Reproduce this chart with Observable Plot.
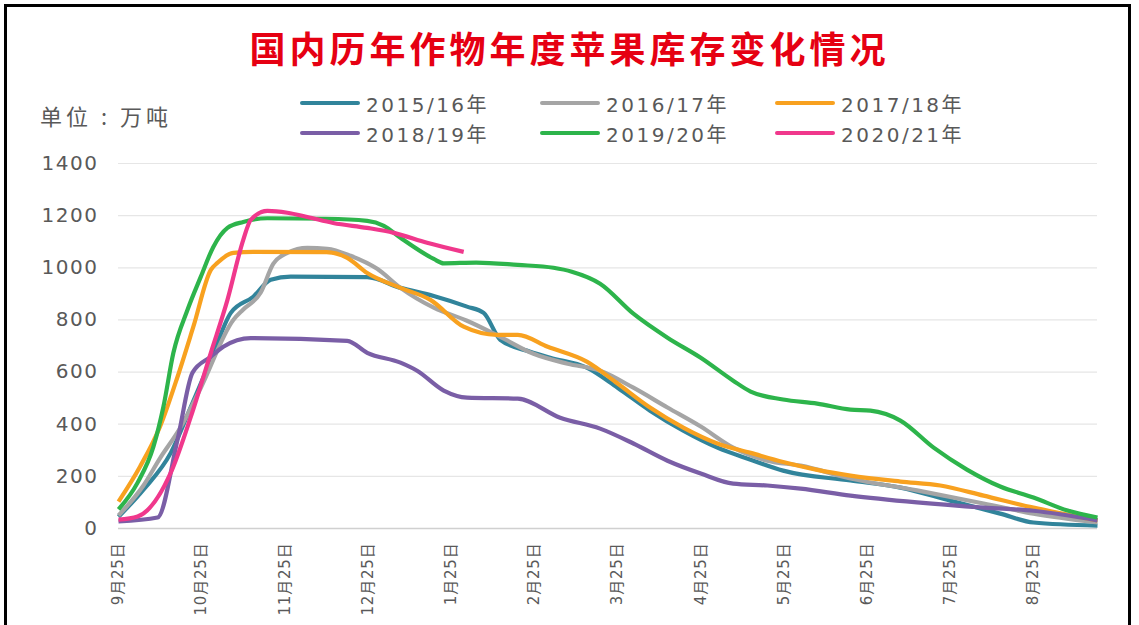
<!DOCTYPE html>
<html>
<head>
<meta charset="utf-8">
<script src="https://cdn.jsdelivr.net/npm/d3@7"></script>
<script src="https://cdn.jsdelivr.net/npm/@observablehq/plot@0.6"></script>
<style>
  html, body { margin: 0; padding: 0; background: #fff; }
  #wrap { position: relative; width: 1139px; height: 625px; overflow: hidden; background: #fff;
          font-family: "DejaVu Sans", "Noto Sans CJK SC", sans-serif; }
  #frame { position: absolute; left: 4px; top: 4px; width: 1127px; height: 700px;
           border: 3px solid #000; box-sizing: border-box; }
  #title { position: absolute; left: 0; width: 1139px; top: 21px; text-align: center;
           font-family: "Noto Sans CJK SC", sans-serif; font-weight: 700; font-size: 36px;
           color: #e60012; letter-spacing: 4px; }
  #unit { position: absolute; left: 40px; top: 99px; font-family: "Noto Sans CJK SC", sans-serif;
          font-size: 22px; color: #595959; letter-spacing: 4px; }
  .leg { position: absolute; height: 20px; display: flex; align-items: center; }
  .leg .sw { width: 60px; height: 4px; border-radius: 2px; margin-right: 6px; }
  .leg .tx { font-size: 20px; color: #595959; letter-spacing: 2.5px; white-space: nowrap; }
  #chart { position: absolute; left: 0; top: 0; }
</style>
</head>
<body>
<div id="wrap">
  <div id="chart"></div>
  <div id="frame"></div>
  <div id="title">国内历年作物年度苹果库存变化情况</div>
  <div id="unit">单位 : 万吨</div>
</div>
<script>
// x labels (one per month, position = month index from 9月25日)
const monthLabels = ["9月25日","10月25日","11月25日","12月25日","1月25日","2月25日","3月25日","4月25日","5月25日","6月25日","7月25日","8月25日"];
const yTicks = [0, 200, 400, 600, 800, 1000, 1200, 1400];
const seriesNames = ["2015/16年","2016/17年","2017/18年","2018/19年","2019/20年","2020/21年"];
const seriesColors = ["#31849b","#a5a5a5","#f8a11f","#7a5ea6","#2db44b","#f0388c"];

// [month offset from 9月25日, stock in 万吨]
const s2015 = [[0,45],[0.3,149],[0.63,291],[0.87,467],[1.11,647],[1.35,827],[1.62,889],[1.83,954],[2.07,966],[2.99,964],[3.39,923],[3.79,892],[4.19,851],[4.39,827],[4.59,724],[4.95,678],[5.19,655],[5.63,617],[6.0,540],[6.39,452],[6.79,375],[7.2,310],[7.6,264],[7.99,222],[8.8,184],[9.4,157],[10.0,107],[10.6,57],[11.0,23],[11.77,11]];
const s2016 = [[0,50],[0.3,165],[0.5,270],[0.75,390],[0.99,540],[1.38,800],[1.5,840],[1.71,905],[1.86,1015],[2.03,1057],[2.27,1076],[2.51,1073],[2.79,1046],[3.11,996],[3.39,923],[3.79,847],[4.19,797],[4.59,735],[4.99,670],[5.4,632],[5.79,605],[6.19,540],[6.6,464],[7.0,391],[7.39,310],[7.8,260],[8.2,241],[8.8,192],[9.6,146],[10.4,96],[11.0,57],[11.77,23]];
const s2017 = [[0,103],[0.26,238],[0.5,391],[0.71,582],[0.9,774],[1.11,992],[1.19,1019],[1.38,1057],[1.62,1061],[2.5,1060],[2.75,1038],[2.99,980],[3.39,923],[3.75,877],[4.15,774],[4.55,743],[4.8,743],[5.16,697],[5.63,640],[6.0,556],[6.39,464],[6.79,387],[7.2,326],[7.6,290],[7.99,255],[8.4,225],[8.8,203],[9.4,180],[9.88,165],[10.4,126],[11.0,80],[11.77,31]];
const s2018 = [[0,27],[0.47,42],[0.71,341],[0.89,598],[1.11,659],[1.26,697],[1.59,730],[2.75,720],[2.99,674],[3.39,636],[3.59,605],[3.91,529],[4.19,502],[4.8,498],[5.31,425],[5.79,383],[6.19,326],[6.6,260],[7.0,211],[7.39,172],[7.8,165],[8.2,153],[8.8,126],[9.6,100],[10.4,80],[11.0,68],[11.77,31]];
const s2019 = [[0,73],[0.23,176],[0.42,314],[0.54,467],[0.66,674],[0.83,839],[0.99,966],[1.14,1080],[1.31,1153],[1.5,1176],[1.79,1190],[2.5,1188],[2.99,1180],[3.19,1161],[3.39,1115],[3.79,1034],[3.91,1017],[4.3,1020],[4.8,1011],[5.23,1000],[5.45,985],[5.79,939],[6.19,824],[6.6,732],[7.0,655],[7.39,567],[7.6,525],[7.99,495],[8.4,479],[8.8,456],[9.04,452],[9.4,414],[9.8,310],[10.2,226],[10.6,161],[11.0,119],[11.41,69],[11.77,42]];
const s2020 = [[0,34],[0.23,46],[0.63,215],[0.87,429],[1.11,674],[1.31,877],[1.5,1107],[1.59,1184],[1.79,1218],[2.03,1211],[2.27,1195],[2.58,1172],[2.99,1153],[3.31,1134],[3.71,1096],[4.15,1061]];

const allSeries = [s2015, s2016, s2017, s2018, s2019, s2020];
const rows = allSeries.flatMap((s, i) => s.map(([m, v]) => ({m, v, name: seriesNames[i]})));

const svg = Plot.plot({
  width: 1139, height: 625,
  marginLeft: 118, marginRight: 42, marginTop: 163, marginBottom: 97,
  style: {fontFamily: '"DejaVu Sans", "Noto Sans CJK SC", sans-serif', background: "transparent"},
  x: {domain: [0, 11.77]},
  y: {domain: [0, 1400]},
  color: {domain: seriesNames, range: seriesColors},
  marks: [
    Plot.ruleY(yTicks.slice(1), {stroke: "#e6e6e6", strokeWidth: 1.2}),
    Plot.ruleY([0], {stroke: "#d0d0d0", strokeWidth: 1.5}),
    Plot.line(rows, {x: "m", y: "v", z: "name", stroke: "name", strokeWidth: 4.2,
      curve: "monotone-x", strokeLinejoin: "round", strokeLinecap: "butt"}),
    Plot.axisY({ticks: yTicks, tickFormat: d => String(d), tickSize: 0, tickPadding: 20, fontSize: 20, fill: "#595959", label: null}),
    Plot.axisX({ticks: d3.range(monthLabels.length), tickFormat: i => monthLabels[i],
      tickRotate: -90, tickSize: 0, tickPadding: 14, fontSize: 15, fill: "#595959", label: null})
  ]
});
d3.select(svg).selectAll('[aria-label="y-axis tick label"] text').style("letter-spacing", "1.5px");
d3.select(svg).selectAll('[aria-label="x-axis tick label"] text').style("letter-spacing", "0.8px");
document.getElementById("chart").appendChild(svg);

// legend
const legPos = [[300,93],[540,93],[775,93],[300,123],[540,123],[775,123]];
const wrap = document.getElementById("wrap");
seriesNames.forEach((n, i) => {
  const d = document.createElement("div");
  d.className = "leg";
  d.style.left = legPos[i][0] + "px";
  d.style.top = legPos[i][1] + "px";
  d.innerHTML = `<span class="sw" style="background:${seriesColors[i]}"></span><span class="tx">${n}</span>`;
  wrap.appendChild(d);
});
</script>
</body>
</html>
